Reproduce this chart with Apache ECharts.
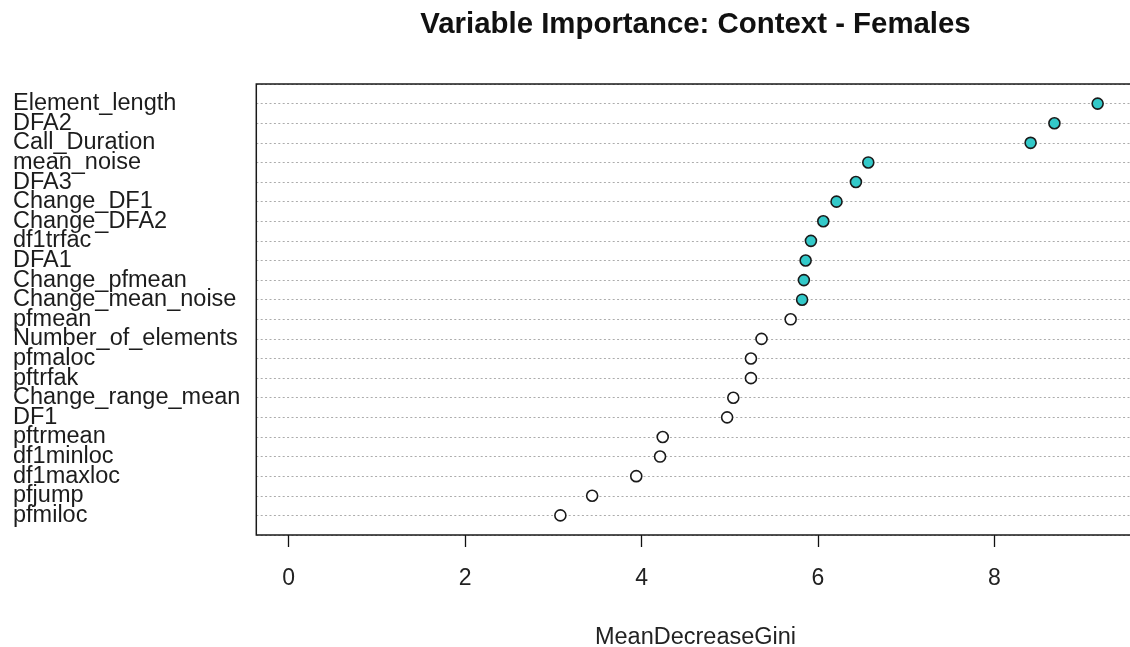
<!DOCTYPE html>
<html>
<head>
<meta charset="utf-8">
<title>Variable Importance: Context - Females</title>
<script src="https://cdn.jsdelivr.net/npm/echarts@6/dist/echarts.min.js"></script>
<style>
  html, body { margin: 0; padding: 0; background: #ffffff; }
  #chart { width: 1130px; height: 647px; }
</style>
</head>
<body>
<div id="chart"></div>
<script>
// Variables, ordered from the top row of the dot chart to the bottom row
const variables = [
  'Element_length', 'DFA2', 'Call_Duration', 'mean_noise', 'DFA3',
  'Change_DF1', 'Change_DFA2', 'df1trfac', 'DFA1', 'Change_pfmean',
  'Change_mean_noise', 'pfmean', 'Number_of_elements', 'pfmaloc', 'pftrfak',
  'Change_range_mean', 'DF1', 'pftrmean', 'df1minloc', 'df1maxloc',
  'pfjump', 'pfmiloc'
];

// Mean decrease in Gini impurity for each variable (same order)
const meanDecreaseGini = [
  9.17, 8.68, 8.41, 6.57, 6.43,
  6.21, 6.06, 5.92, 5.86, 5.84,
  5.82, 5.69, 5.36, 5.24, 5.24,
  5.04, 4.97, 4.24, 4.21, 3.94,
  3.44, 3.08
];

// Whether a variable is drawn with a filled (highlighted) marker
const highlighted = [
  true, true, true, true, true,
  true, true, true, true, true,
  true, false, false, false, false,
  false, false, false, false, false,
  false, false
];

const xTicks = [0, 2, 4, 6, 8];

const FONT = "'Liberation Sans', Arial, Helvetica, sans-serif";
const W = 1130, H = 647;

// Value range padded by 4% on each side, as a dot chart does
const maxVal = Math.max(...meanDecreaseGini);
const pad = (maxVal - 0) * 0.04;
const xMin = 0 - pad;
const xMax = maxVal + pad;

// Plot box in pixels
const boxLeft = 256.3;
const boxTop = 84;
const boxBottom = 535;
const pxPerUnit = (1001 - 289) / 8;
const boxRight = boxLeft + (xMax - xMin) * pxPerUnit;

const nRows = variables.length;
const rowOf = i => nRows - i;          // top row gets the highest position

const filled = [], hollow = [];
variables.forEach((name, i) => {
  const pt = { value: [meanDecreaseGini[i], rowOf(i)], name: name };
  (highlighted[i] ? filled : hollow).push(pt);
});

const labelByRow = {};
variables.forEach((name, i) => { labelByRow[rowOf(i)] = name; });

const chart = echarts.init(document.getElementById('chart'), null, { renderer: 'canvas' });

chart.setOption({
  animation: false,
  backgroundColor: '#ffffff',
  grid: {
    left: boxLeft,
    top: boxTop,
    right: W - boxRight,
    bottom: H - boxBottom,
    containLabel: false
  },
  xAxis: {
    type: 'value',
    min: xMin,
    max: xMax,
    axisLine: { show: false },
    splitLine: { show: false },
    axisTick: {
      show: true,
      customValues: xTicks,
      length: 12,
      lineStyle: { color: '#111111', width: 1.3 }
    },
    axisLabel: {
      show: true,
      customValues: xTicks,
      fontFamily: FONT,
      fontSize: 23,
      color: '#222222',
      margin: 32.5
    }
  },
  yAxis: {
    type: 'value',
    min: 0,
    max: nRows + 1,
    interval: 1,
    axisLine: { show: false },
    axisTick: { show: false },
    splitLine: {
      show: true,
      lineStyle: { color: '#acacac', width: 1, type: [2, 2.4] }
    },
    axisLabel: {
      show: true,
      align: 'left',
      margin: boxLeft - 13,
      fontFamily: FONT,
      fontSize: 23.5,
      color: '#1c1c1c',
      padding: [5, 0, 0, 0],
      formatter: v => labelByRow[v] || ''
    }
  },
  series: [
    {
      type: 'scatter',
      data: hollow,
      symbol: 'circle',
      symbolSize: 11,
      itemStyle: { color: '#ffffff', borderColor: '#1a1a1a', borderWidth: 1.6, opacity: 1 },
      z: 5
    },
    {
      type: 'scatter',
      data: filled,
      symbol: 'circle',
      symbolSize: 11,
      itemStyle: { color: '#33c9c9', borderColor: '#1a1a1a', borderWidth: 1.6, opacity: 1 },
      z: 5
    }
  ],
  graphic: [
    {
      type: 'rect',
      z: 100,
      silent: true,
      shape: { x: boxLeft, y: boxTop, width: boxRight - boxLeft, height: boxBottom - boxTop },
      style: { fill: 'none', stroke: '#1a1a1a', lineWidth: 1.5 }
    },
    {
      type: 'text',
      z: 100,
      x: 695.5,
      y: 25,
      style: {
        text: 'Variable Importance: Context - Females',
        fontFamily: FONT,
        fontWeight: 'bold',
        fontSize: 29.4,
        fill: '#111111',
        textAlign: 'center',
        textVerticalAlign: 'middle'
      }
    },
    {
      type: 'text',
      z: 100,
      x: 695.5,
      y: 638,
      style: {
        text: 'MeanDecreaseGini',
        fontFamily: FONT,
        fontSize: 23.5,
        fill: '#222222',
        textAlign: 'center',
        textVerticalAlign: 'middle'
      }
    }
  ]
});
</script>
</body>
</html>
